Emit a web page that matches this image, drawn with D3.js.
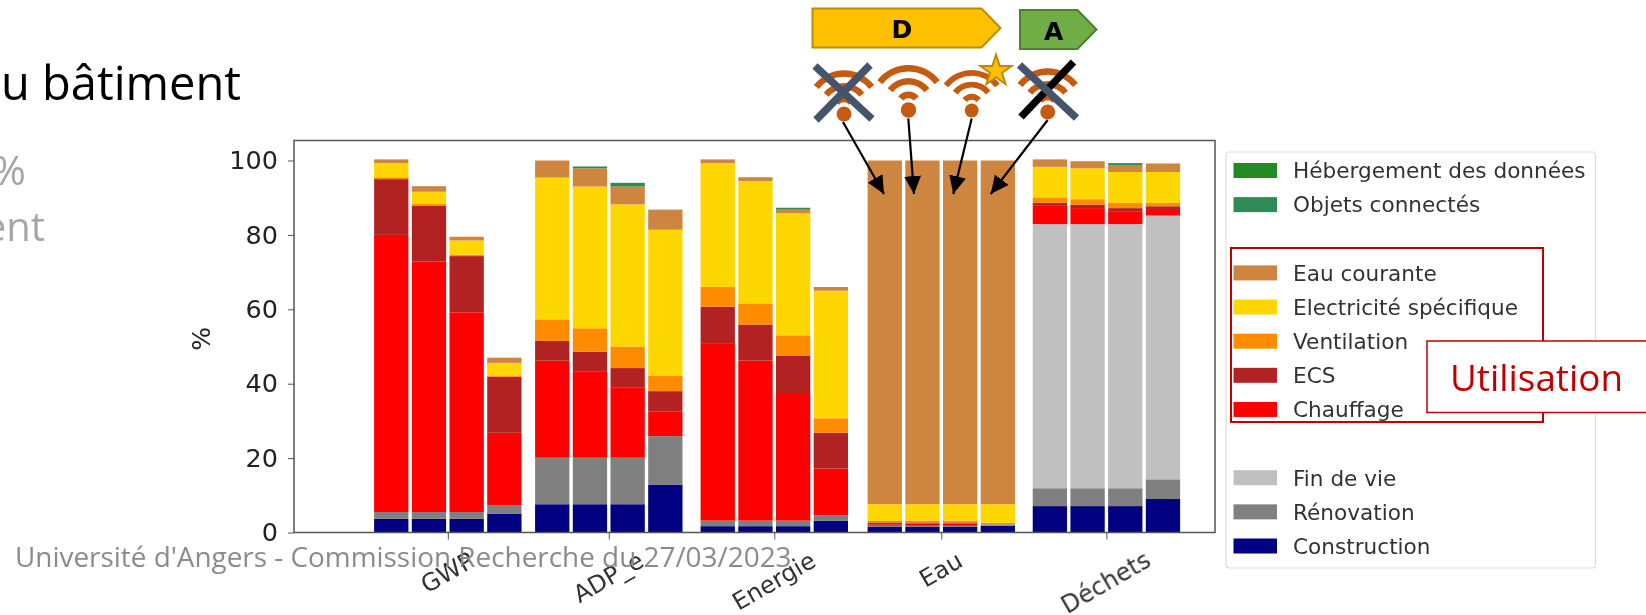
<!DOCTYPE html>
<html>
<head>
<meta charset="utf-8">
<script src="https://cdn.jsdelivr.net/npm/d3@7"></script>
<style>
  html, body { margin: 0; padding: 0; background: #fff; overflow: hidden; }
  svg { display: block; }
  text { font-family: "DejaVu Sans", sans-serif; }
  text.slide { font-family: "Open Sans", "Noto Sans", sans-serif; }
</style>
</head>
<body>
<div id="chart"></div>
<script>
// x positions are in "bar widths" around the first group
var categories = ["GWP", "ADP_e", "Energie", "Eau", "Déchets"];
var categoryPos = [0, 4.27, 8.66, 13.09, 17.47];
var barOffsets = [-1.5, -0.5, 0.5, 1.5];
var yTicks = [0, 20, 40, 60, 80, 100];

// one value per bar, 4 bars per category, bottom to top of the stack
var construction = [3.7,3.7,3.7,5.1, 7.6,7.6,7.6,12.9, 1.7,1.7,1.7,3.2, 1.5,1.5,1.5,1.8, 7.1,7.1,7.1,9];
var renovation   = [1.8,1.8,1.8,2.3, 12.5,12.5,12.5,13, 1.5,1.5,1.5,1.4, 0.3,0.3,0.3,0.4, 4.8,4.8,4.8,5.3];
var finDeVie     = [0,0,0,0, 0,0,0,0, 0,0,0,0, 0,0,0,0, 71,71,71,70.9];
var chauffage    = [74.5,67.3,53.7,19.4, 26.1,23.1,18.8,6.7, 47.7,43,34.3,12.6, 0.4,0.6,0.6,0, 4.9,4.3,3.3,1.5];
var ecs          = [15,15.1,15.1,15.1, 5.3,5.4,5.3,5.4, 9.8,9.7,10.1,9.6, 0.5,0.3,0.3,0, 0.8,0.9,1,1];
var ventilation  = [0.5,0.4,0.4,0.3, 5.8,6.3,5.8,4.2, 5.3,5.7,5.4,3.9, 0.4,0.5,0.5,0.4, 1.5,1.5,1.4,0.9];
var electricite  = [3.8,3.3,3.8,3.4, 38.1,38.1,38.2,39.2, 33.3,32.9,32.8,34.3, 4.5,4.4,4.4,5, 8.2,8.3,8.3,8.3];
var eauCourante  = [1,1.5,1,1.4, 4.6,4.9,4.8,5.4, 1,1,1,1, 92.4,92.4,92.4,92.4, 2,1.9,1.9,2.3];
var objets       = [0,0,0,0, 0,0.5,1,0, 0,0,0.5,0, 0,0,0,0, 0,0,0.5,0];
var hebergement  = [0,0,0,0, 0,0,0,0, 0,0,0,0, 0,0,0,0, 0,0,0,0];

var seriesNames = ["Construction", "Rénovation", "Fin de vie", "Chauffage", "ECS", "Ventilation",
  "Electricité spécifique", "Eau courante", "Objets connectés", "Hébergement des données"];
var seriesValues = [construction, renovation, finDeVie, chauffage, ecs, ventilation,
  electricite, eauCourante, objets, hebergement];
var seriesColors = ["#000080", "#808080", "#c0c0c0", "#ff0000", "#b22222", "#ff8c00",
  "#ffd700", "#cd853f", "#2e8b57", "#228b22"];

// legend rows top to bottom, null is a blank row
var legendRows = [9, 8, null, 7, 6, 5, 4, 3, null, 2, 1, 0];

var width = 1646, height = 615;
var svg = d3.select("#chart").append("svg").attr("width", width).attr("height", height);

var defs = svg.append("defs");
defs.append("filter").attr("id", "soft")
  .attr("x", "-5%").attr("y", "-5%").attr("width", "110%").attr("height", "110%")
  .append("feGaussianBlur").attr("stdDeviation", 0.45);

var x = d3.scaleLinear().domain([-4.08, 20.35]).range([294, 1215]);
var y = d3.scaleLinear().domain([0, 100]).range([532.5, 160.5]);
var barW = x(0.91) - x(0);

var chart = svg.append("g").attr("filter", "url(#soft)");

// stacked bars
var rows = [];
categories.forEach(function (cat, c) {
  barOffsets.forEach(function (off, b) {
    var row = { pos: categoryPos[c] + off };
    seriesNames.forEach(function (name, s) {
      row[name] = seriesValues[s][c * 4 + b];
    });
    rows.push(row);
  });
});
var stack = d3.stack().keys(seriesNames);
chart.selectAll(".layer")
  .data(stack(rows))
  .enter().append("g")
  .attr("class", "layer")
  .attr("fill", function (d, i) { return seriesColors[i]; })
  .selectAll("rect")
  .data(function (d) { return d; })
  .enter().append("rect")
  .attr("x", function (d) { return x(d.data.pos) - barW / 2; })
  .attr("width", barW)
  .attr("y", function (d) { return y(d[1]); })
  .attr("height", function (d) { return y(d[0]) - y(d[1]); });

// axes
var yAxis = d3.axisLeft(y).tickValues(yTicks).tickSize(6).tickPadding(10);
var gy = chart.append("g").attr("transform", "translate(294,0)").call(yAxis);
gy.select(".domain").remove();
gy.selectAll("text").attr("font-size", 25.5).attr("fill", "#222").attr("font-family", "DejaVu Sans");
gy.selectAll("line").attr("stroke", "#555");

var xAxis = d3.axisBottom(x).tickValues(categoryPos).tickSize(7).tickFormat(function (d, i) { return categories[i]; });
var gx = chart.append("g").attr("transform", "translate(0,532.5)").call(xAxis);
gx.select(".domain").remove();
gx.selectAll("line").attr("stroke", "#555");
// rotated labels, the top of each rotated box sits at the same height
gx.selectAll("text")
  .attr("font-size", 24).attr("fill", "#333").attr("font-family", "DejaVu Sans")
  .attr("text-anchor", "middle").attr("y", 0).attr("dy", "0.35em")
  .attr("transform", function () {
    var len = this.getComputedTextLength();
    var boxH = len * 0.5 + 20 * 0.866;
    return "translate(-1," + (17 + boxH / 2) + ") rotate(-30)";
  });

chart.append("rect").attr("x", 294).attr("y", 140.5).attr("width", 921).attr("height", 392)
  .attr("fill", "none").attr("stroke", "#555").attr("stroke-width", 1.5);

chart.append("text").text("%")
  .attr("transform", "translate(210,339) rotate(-90)")
  .attr("text-anchor", "middle").attr("font-size", 25).attr("fill", "#222");

// legend
var legend = chart.append("g");
legend.append("rect").attr("x", 1226).attr("y", 152).attr("width", 369.5).attr("height", 416)
  .attr("rx", 3).attr("fill", "#fff").attr("stroke", "#ddd").attr("stroke-width", 1.2);
var legendY = d3.scalePoint().domain(d3.range(legendRows.length)).range([170.5, 546]);
legendRows.forEach(function (s, i) {
  if (s === null) return;
  legend.append("rect").attr("x", 1233.5).attr("y", legendY(i) - 7.5).attr("width", 43.5).attr("height", 15)
    .attr("fill", seriesColors[s]);
  legend.append("text").attr("x", 1293).attr("y", legendY(i)).attr("dy", "0.36em")
    .attr("font-size", 21.6).attr("fill", "#333").text(seriesNames[s]);
});

// slide overlays
svg.append("text").attr("class", "slide").attr("x", 241).attr("y", 100).attr("text-anchor", "end")
  .attr("font-size", 47).attr("fill", "#000").text("du bâtiment");
svg.append("text").attr("class", "slide").attr("x", 26).attr("y", 185).attr("text-anchor", "end")
  .attr("font-size", 41).attr("fill", "#a6a6a6").text("%");
svg.append("text").attr("class", "slide").attr("x", 45).attr("y", 241).attr("text-anchor", "end")
  .attr("font-size", 40).attr("fill", "#a6a6a6").text("ent");
svg.append("text").attr("class", "slide").attr("x", 15).attr("y", 567)
  .attr("font-size", 27.9).attr("fill", "#8b8b8b").text("Université d'Angers - Commission Recherche du 27/03/2023");

// Utilisation box
svg.append("rect").attr("x", 1231).attr("y", 248).attr("width", 312).attr("height", 174)
  .attr("fill", "none").attr("stroke", "#c00000").attr("stroke-width", 2);
svg.append("rect").attr("x", 1427).attr("y", 341).attr("width", 225).attr("height", 71.5)
  .attr("fill", "#fff").attr("stroke", "#c00000").attr("stroke-width", 1.5);
svg.append("text").attr("class", "slide").attr("x", 1536.5).attr("y", 391).attr("text-anchor", "middle")
  .attr("font-size", 36.8).attr("fill", "#c00000").text("Utilisation");

// rating arrows
function ratingArrow(x0, y0, w, h, tip, fill, stroke, label) {
  svg.append("path")
    .attr("d", "M" + x0 + "," + y0 + "h" + (w - tip) + "l" + tip + "," + h / 2 + "l" + (-tip) + "," + h / 2 + "h" + (tip - w) + "z")
    .attr("fill", fill).attr("stroke", stroke).attr("stroke-width", 2);
  svg.append("text").attr("x", x0 + (w - tip) / 2 + 5).attr("y", y0 + h / 2 + 10).attr("text-anchor", "middle")
    .attr("font-size", 25).attr("font-weight", "bold").attr("fill", "#000").text(label);
}
ratingArrow(812.5, 8.5, 188, 39, 19, "#ffc000", "#bc8c00", "D");
ratingArrow(1020, 10, 76.5, 39, 19, "#70ad47", "#507e32", "A");

// wifi icons
function wifi(cx, cy, s) {
  var g = svg.append("g").attr("transform", "translate(" + cx + "," + cy + ") scale(" + s + ")");
  g.append("circle").attr("r", 7.7).attr("fill", "#c55a11");
  [13, 26.5, 39.5].forEach(function (r) {
    var arc = d3.arc().innerRadius(r - 6.5).outerRadius(r)
      .startAngle(-52 * Math.PI / 180).endAngle(52 * Math.PI / 180);
    g.append("path").attr("transform", "translate(0,-5.5)").attr("d", arc()).attr("fill", "#c55a11");
  });
}
wifi(844, 114, 0.97);
wifi(908.5, 110, 1);
wifi(971.7, 110.5, 0.9);
wifi(1047.7, 112, 0.97);

function stroke(a, b, c, d, col, w) {
  svg.append("line").attr("x1", a).attr("y1", b).attr("x2", c).attr("y2", d)
    .attr("stroke", col).attr("stroke-width", w);
}
stroke(1073.5, 62, 1021, 117, "#000", 7.5);
stroke(815, 66, 872, 119, "#44546a", 7.5);
stroke(870, 65, 816, 120, "#44546a", 7.5);
stroke(1019.5, 65, 1076.5, 118, "#44546a", 7.5);

svg.append("path")
  .attr("d", d3.symbol().type(d3.symbolStar).size(300)())
  .attr("transform", "translate(996,71)")
  .attr("fill", "#ffc000").attr("stroke", "#bc8c00").attr("stroke-width", 2);

// arrows from the icons to the Eau bars
var marker = defs.append("marker").attr("id", "head").attr("markerUnits", "userSpaceOnUse")
  .attr("markerWidth", 19).attr("markerHeight", 18).attr("refX", 18).attr("refY", 8.5).attr("orient", "auto");
marker.append("path").attr("d", "M0,0L18,8.5L0,17z").attr("fill", "#000");
[[843, 122, 884, 194], [908.3, 118.5, 914, 194], [971.7, 118.5, 953.3, 194], [1047.7, 120, 990.7, 194]].forEach(function (a) {
  svg.append("line").attr("x1", a[0]).attr("y1", a[1]).attr("x2", a[2]).attr("y2", a[3])
    .attr("stroke", "#000").attr("stroke-width", 2.2).attr("marker-end", "url(#head)");
});
</script>
</body>
</html>
